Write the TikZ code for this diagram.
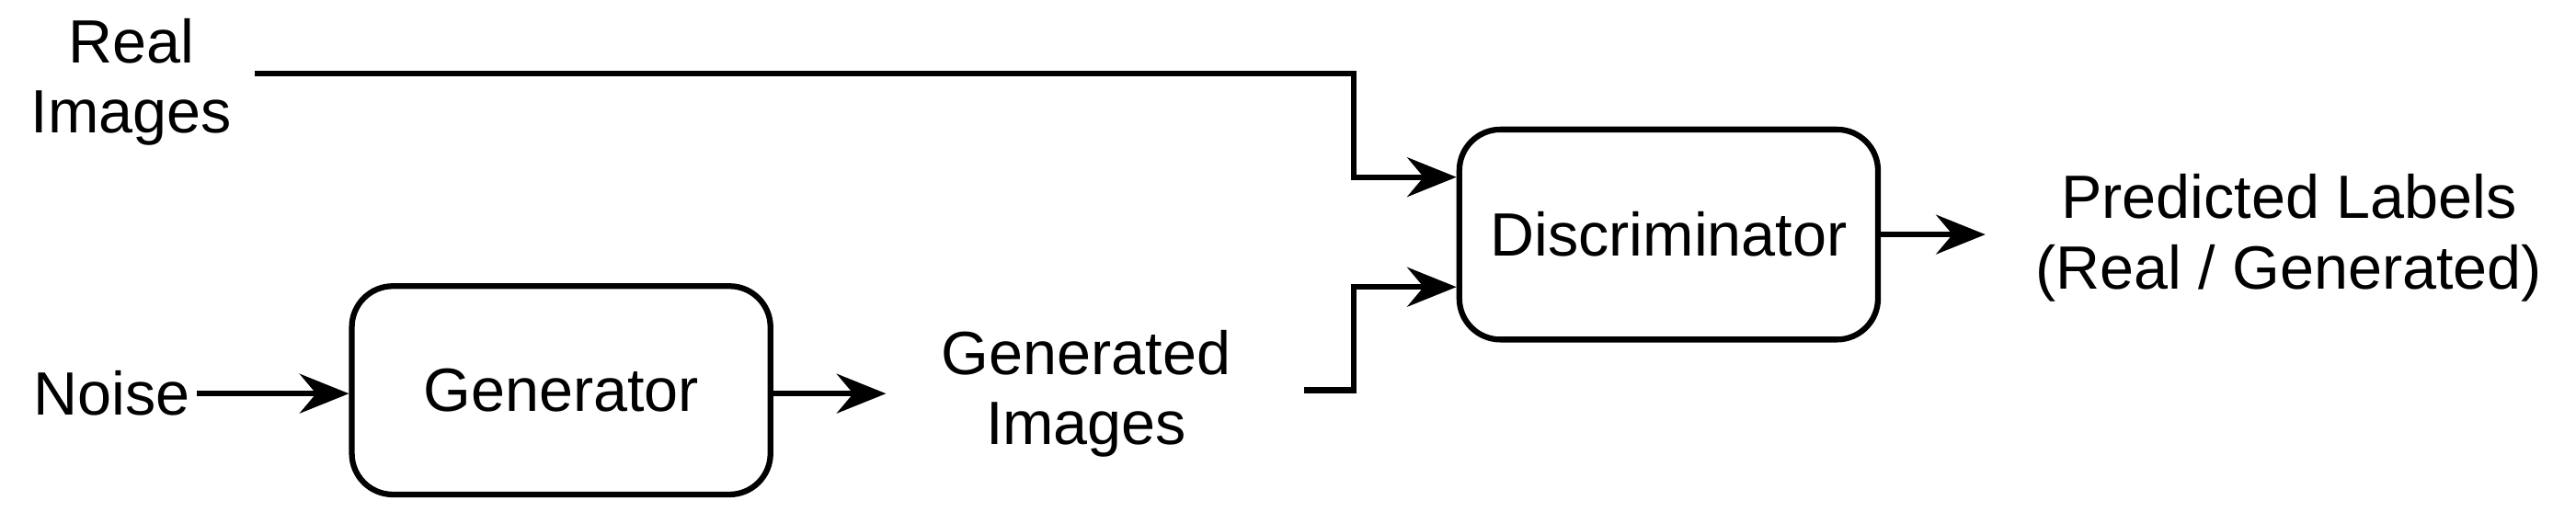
\documentclass[tikz,border=0pt]{standalone}
\usepackage{fontspec}
\setmainfont{Liberation Sans}
\usetikzlibrary{arrows.meta}
\begin{document}
\begin{tikzpicture}[x=0.01cm,y=-0.01cm,
  box/.style={draw,line width=1pt,rounded corners=0.25cm,inner sep=0pt},
  lbl/.style={align=center,font=\fontsize{10.6}{12.2}\selectfont,inner sep=0pt},
  conn/.style={line width=1pt,-{Stealth[length=0.3cm,width=0.24cm,inset=0.1cm]}}]
\useasboundingbox (0,0) rectangle (1570,312);
\node[box,minimum width=2.55cm,minimum height=1.28cm] (disc) at (1017,143) {};
\node[lbl] at (disc) {Discriminator};
\node[box,minimum width=2.55cm,minimum height=1.27cm] (gen) at (342,238) {};
\node[lbl] at (gen) {Generator};
\node[lbl] (real) at (80,50) {Real\\Images};
\node[lbl] (noise) at (68,240) {Noise};
\node[lbl] (gimg) at (662,240) {Generated\\Images};
\node[lbl] (pred) at (1395,145) {Predicted Labels\\(Real / Generated)};
\coordinate (r0) at (155,45);
\coordinate (g0) at (795,238);
\draw[conn] (r0) -| (825,108) -- (disc.west |- 0,108);
\draw[conn] (g0) -| (825,175) -- (disc.west |- 0,175);
\draw[conn] (disc.east) -- (1210,143);
\draw[conn] (120,240) -- (gen.west |- 0,240);
\draw[conn] (gen.east |- 0,240) -- (540,240);
\end{tikzpicture}
\end{document}
